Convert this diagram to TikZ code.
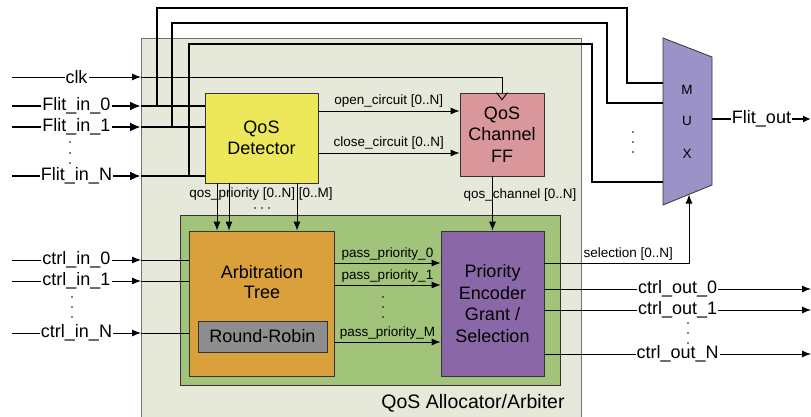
\documentclass[tikz,border=0pt]{standalone}
\usepackage{fontspec}
\setmainfont{Liberation Sans}
\usepackage{xcolor}
\usepackage{tikz}
\usetikzlibrary{arrows.meta,positioning}

\definecolor{frameC}{RGB}{230,233,218}
\definecolor{grpC}{RGB}{161,196,122}
\definecolor{detC}{RGB}{237,232,90}
\definecolor{ffC}{RGB}{217,150,155}
\definecolor{arbC}{RGB}{217,160,60}
\definecolor{rrC}{RGB}{142,142,142}
\definecolor{encC}{RGB}{138,104,168}
\definecolor{muxC}{RGB}{155,147,200}

\begin{document}
\begin{tikzpicture}[x=1pt, y=-1pt,
  big/.style={font=\fontsize{18}{20.5}\selectfont},
  lbl/.style={font=\fontsize{13.5}{15}\selectfont, inner sep=1pt},
  blk/.style={draw=black!80, line width=0.8pt, align=center, inner sep=0pt, big},
  port/.style={big, fill=white, inner sep=1pt},
  bus/.style={line width=2.4pt},
  sig/.style={line width=0.9pt},
  arr/.style={-{Latex[length=9pt,width=7pt]}},
  barr/.style={-{Latex[length=11pt,width=9pt]}},
  dot/.style={circle, fill=black, inner sep=0pt, minimum size=1.6pt}]
  \useasboundingbox (0,0) rectangle (811,417);

  % QoS allocator frame and arbitration group
  \node[draw=black!55, fill=frameC, minimum width=440, minimum height=392,
        anchor=north west] (alloc) at (141,38) {};
  \node[big, font=\fontsize{19.5}{21}\selectfont] (alloclbl) at (473,403) {QoS Allocator/Arbiter};
  \node[draw=black!80, line width=0.8pt, fill=grpC, minimum width=380,
        minimum height=170] (grp) at (370,300) {};

  % blocks
  \node[blk, fill=detC, minimum width=113, minimum height=90] (det) at (261.5,138) {QoS\\Detector};
  \node[blk, fill=ffC, minimum width=84, minimum height=83, font=\fontsize{18}{21.5}\selectfont]
       (ff) at (502,134.5) {QoS\\Channel\\FF};
  \node[blk, fill=arbC, minimum width=145, minimum height=145] (arb) at (261.5,303.5) {};
  \node[big, align=center] (arbtxt) at (262,282) {Arbitration\\Tree};
  \node[blk, fill=rrC, minimum width=129, minimum height=31] (rr) at (262.5,336.5) {Round-Robin};
  \node[blk, fill=encC, minimum width=103, minimum height=145, font=\fontsize{18}{21.7}\selectfont]
       (enc) at (492.5,303.5) {Priority\\Encoder\\Grant /\\Selection};

  % multiplexer
  \coordinate (m1) at (663,38); \coordinate (m2) at (712,57);
  \coordinate (m3) at (712,185); \coordinate (m4) at (663,205);
  \filldraw[fill=muxC, draw=black!80, line width=0.8pt] (m1) -- (m2) -- (m3) -- (m4) -- cycle;
  \node[lbl] (muxM) at (687,90) {M};
  \node[lbl] (muxU) at (687,121) {U};
  \node[lbl] (muxX) at (687,154) {X};

  % clock
  \coordinate (clk) at (12,77);
  \draw[sig, arr] (clk) -- node[port] {clk} (clk -| alloc.west);
  \draw[sig] (clk -| alloc.west) -| (ff.north);
  \draw[sig] ([xshift=-5.5pt]ff.north) -- ([yshift=-7pt]ff.north) -- ([xshift=5.5pt]ff.north);

  % flit inputs
  \foreach \y/\t/\n in {106/0/fi0, 127/1/fi1, 176/N/fiN} {
    \coordinate (\n) at (12,\y);
    \draw[bus, barr] (\n) -- node[port] {Flit\_in\_\t} (\n -| alloc.west);
    \draw[bus] (\n -| alloc.west) -- (\n -| det.west);
  }
  \foreach \y in {142,153,163} \node[dot] at (70,\y) {};

  % bypass wires to the mux
  \coordinate (mi0) at (663,83); \coordinate (mi1) at (663,103); \coordinate (miN) at (663,182);
  \draw[bus] (157,0 |- fi0) |- (627,8) |- (mi0);
  \draw[bus] (172,0 |- fi1) |- (607,23) |- (mi1);
  \draw[bus] (189,0 |- fiN) |- (592,44) |- (miN);
  \foreach \y in {132,142,152} \node[dot] at (633,\y) {};

  % flit output
  \coordinate (fo) at (811,119);
  \draw[bus, -{Latex[length=8pt,width=7pt]}] (fo -| m2) -- node[port] {Flit\_out} (fo);

  % detector to channel FF
  \coordinate (oc) at (318,111); \coordinate (cc) at (318,153);
  \draw[sig, arr] (oc) -- node[above=2pt, lbl] {open\_circuit [0..N]} (oc -| ff.west);
  \draw[sig, arr] (cc) -- node[above=2pt, lbl] {close\_circuit [0..N]} (cc -| ff.west);

  % detector to arbitration tree
  \foreach \x in {217,229,297} \draw[sig, arr] (\x,0 |- det.south) -- (\x,0 |- arb.north);
  \node[lbl] (qp) at (261,194) {qos\_priority [0..N] [0..M]};
  \foreach \x in {255,262,269} \node[dot] at (\x,208) {};

  % channel FF to encoder
  \draw[sig, arr] (enc.north |- ff.south) -- (enc.north);
  \node[lbl] (qc) at (520,195) {qos\_channel [0..N]};

  % control inputs
  \foreach \y/\t/\n in {260/0/ci0, 281/1/ci1, 333/N/ciN} {
    \coordinate (\n) at (12,\y);
    \draw[sig, arr] (\n) -- node[port] {ctrl\_in\_\t} (\n -| alloc.west);
    \draw[sig] (\n -| alloc.west) -- (\n -| arb.west);
  }
  \foreach \y in {297,307,317} \node[dot] at (72,\y) {};

  % tree to encoder
  \foreach \y/\t in {263/0, 285/1, 342/M}
    \draw[sig, arr] (arb.east |- 0,\y) -- node[above=1pt, lbl] {pass\_priority\_\t} (enc.west |- 0,\y);
  \foreach \y in {297,307,317} \node[dot] at (383,\y) {};

  % selection to mux
  \coordinate (msel) at (689,194.5);
  \draw[sig, arr] (enc.east |- 0,263) -| node[pos=0.29, above=1pt, lbl] {selection [0..N]} (msel);

  % control outputs
  \foreach \y/\t/\n in {289/0/co0, 310/1/co1, 354/N/coN} {
    \coordinate (\n) at (811,\y);
    \draw[sig, arr] (\n -| enc.east) -- node[port] {ctrl\_out\_\t} (\n);
  }
  \foreach \y in {323,333,343} \node[dot] at (688,\y) {};
\end{tikzpicture}
\end{document}
